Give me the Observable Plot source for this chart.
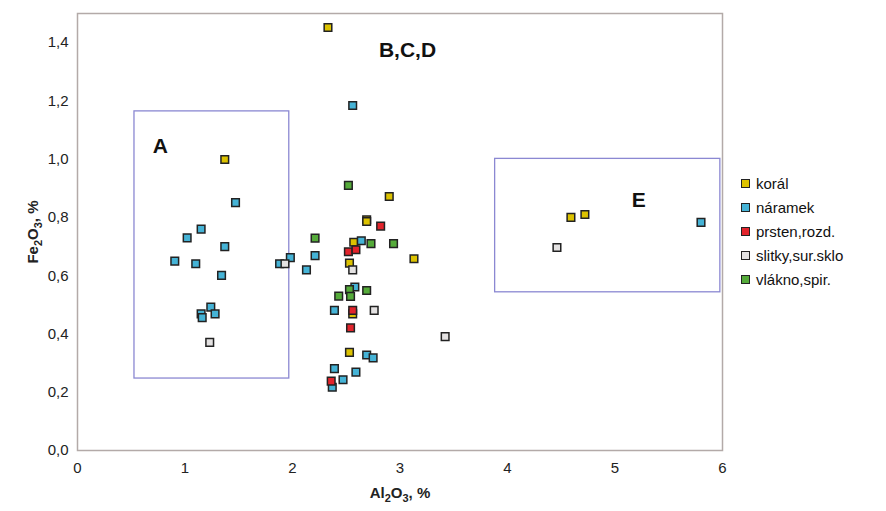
<!DOCTYPE html>
<html>
<head>
<meta charset="utf-8">
<script src="https://cdn.jsdelivr.net/npm/d3@7"></script>
<script src="https://cdn.jsdelivr.net/npm/@observablehq/plot@0.6"></script>
<style>
  html, body { margin: 0; padding: 0; background: #fff; }
  #wrap { position: relative; width: 886px; height: 511px; font-family: "Liberation Sans", Arial, sans-serif; }
  #legend { position: absolute; left: 741px; top: 171px; font-size: 15px; color: #111; }
  #legend .row { height: 24px; display: flex; align-items: center; white-space: nowrap; }
  #legend .sw { width: 7px; height: 7px; border: 1.3px solid #222; margin-right: 6px; }
</style>
</head>
<body>
<div id="wrap"></div>
<script>
// Series (Al2O3 %, Fe2O3 %)
const seriesNames = ["korál", "náramek", "prsten,rozd.", "slitky,sur.sklo", "vlákno,spir."];
const seriesColors = ["#dcc200", "#45b3d6", "#e2242c", "#e4e2e2", "#55ab3a"];

const koralX = [2.33, 1.37, 2.90, 2.69, 2.69, 2.57, 3.13, 2.53, 2.56, 2.53, 4.59, 4.72];
const koralY = [1.452, 0.999, 0.872, 0.792, 0.786, 0.715, 0.658, 0.643, 0.469, 0.337, 0.80, 0.81];

const naramekX = [2.56, 1.47, 1.15, 1.02, 1.37, 0.905, 1.10, 1.88, 1.98, 1.34, 1.24, 1.28, 1.15, 1.16,
                  2.21, 2.13, 2.64, 2.58, 2.39, 2.69, 2.75, 2.39, 2.59, 2.47, 2.37, 5.80];
const naramekY = [1.184, 0.851, 0.760, 0.730, 0.700, 0.650, 0.641, 0.641, 0.662, 0.601, 0.492, 0.469, 0.469, 0.456,
                  0.669, 0.620, 0.720, 0.561, 0.481, 0.328, 0.318, 0.281, 0.269, 0.243, 0.217, 0.783];

const prstenX = [2.82, 2.52, 2.59, 2.56, 2.54, 2.36];
const prstenY = [0.770, 0.682, 0.689, 0.481, 0.421, 0.238];

const slitkyX = [1.93, 1.23, 2.56, 2.76, 3.42, 4.46];
const slitkyY = [0.641, 0.371, 0.620, 0.481, 0.391, 0.697];

const vlaknoX = [2.52, 2.21, 2.73, 2.94, 2.53, 2.69, 2.43, 2.54];
const vlaknoY = [0.910, 0.729, 0.710, 0.710, 0.552, 0.549, 0.530, 0.529];

// Group boxes and labels
const boxNames = ["A", "E"];
const boxX1 = [0.53, 3.885];
const boxX2 = [1.97, 5.98];
const boxY1 = [0.247, 0.543];
const boxY2 = [1.164, 1.001];

const groupLabels = ["A", "B,C,D", "E"];
const groupLabelX = [0.77, 3.07, 5.22];
const groupLabelY = [1.044, 1.373, 0.858];

const xTicks = [0, 1, 2, 3, 4, 5, 6];
const yTicks = [0, 0.2, 0.4, 0.6, 0.8, 1.0, 1.2, 1.4];

// Axis label parts: [text, isSubscript]
const xLabelParts = [["Al", false], ["2", true], ["O", false], ["3", true], [", %", false]];
const yLabelParts = [["Fe", false], ["2", true], ["O", false], ["3", true], [", %", false]];

// Build tables
const xs = [koralX, naramekX, prstenX, slitkyX, vlaknoX];
const ys = [koralY, naramekY, prstenY, slitkyY, vlaknoY];
const points = [];
seriesNames.forEach((name, i) => {
  xs[i].forEach((x, j) => points.push({series: name, x, y: ys[i][j]}));
});
const boxes = boxNames.map((n, i) => ({name: n, x1: boxX1[i], x2: boxX2[i], y1: boxY1[i], y2: boxY2[i]}));
const labels = groupLabels.map((t, i) => ({t, x: groupLabelX[i], y: groupLabelY[i]}));

const chart = Plot.plot({
  width: 886,
  height: 511,
  marginLeft: 77,
  marginRight: 164,
  marginTop: 13,
  marginBottom: 61,
  style: {fontFamily: "'Liberation Sans', Arial, sans-serif", fontSize: "15px", color: "#222", background: "#fff"},
  x: {domain: [0, 6]},
  y: {domain: [0, 1.5]},
  color: {domain: seriesNames, range: seriesColors},
  marks: [
    Plot.rect(boxes, {x1: "x1", x2: "x2", y1: "y1", y2: "y2", fill: "none", stroke: "#8b88d2", strokeWidth: 1.3}),
    Plot.frame({stroke: "#b3aaa8", strokeWidth: 1.5}),
    Plot.axisX({ticks: xTicks, tickSize: 0, tickPadding: 12, tickFormat: d => String(d),
      label: "Al2O3, %", labelAnchor: "center", labelArrow: "none", labelOffset: 47,
      fontSize: 15}),
    Plot.axisY({ticks: yTicks, tickSize: 0, tickPadding: 9, tickFormat: d => d.toFixed(1).replace(".", ","),
      label: "Fe2O3, %", labelAnchor: "center", labelArrow: "none", labelOffset: 50,
      fontSize: 15}),
    Plot.text(labels, {x: "x", y: "y", text: "t", fontSize: 21, fontWeight: "bold", fill: "#111"}),
    Plot.dot(points, {x: "x", y: "y", fill: "series", symbol: "square", r: 4.3, stroke: "#222", strokeWidth: 1.5})
  ]
});

// bold axis labels with real subscripts
function rich(textEl, parts) {
  while (textEl.firstChild) textEl.removeChild(textEl.firstChild);
  textEl.setAttribute("font-weight", "bold");
  textEl.setAttribute("font-size", "15");
  let shifted = false;
  parts.forEach(([s, sub]) => {
    const ts = document.createElementNS("http://www.w3.org/2000/svg", "tspan");
    ts.textContent = s;
    if (sub && !shifted) { ts.setAttribute("dy", "4"); ts.setAttribute("font-size", "11"); shifted = true; }
    else if (sub) { ts.setAttribute("font-size", "11"); }
    else if (shifted) { ts.setAttribute("dy", "-4"); shifted = false; }
    textEl.appendChild(ts);
  });
}
// with consistent dy handling: each subscript followed by normal text
const xl = chart.querySelector("[aria-label='x-axis label'] text");
const yl = chart.querySelector("[aria-label='y-axis label'] text");
if (xl) rich(xl, xLabelParts);
if (yl) rich(yl, yLabelParts);

const wrap = document.getElementById("wrap");
wrap.appendChild(chart);

const legend = document.createElement("div");
legend.id = "legend";
seriesNames.forEach((n, i) => {
  const row = document.createElement("div");
  row.className = "row";
  const sw = document.createElement("span");
  sw.className = "sw";
  sw.style.background = seriesColors[i];
  const tx = document.createElement("span");
  tx.textContent = n;
  row.appendChild(sw);
  row.appendChild(tx);
  legend.appendChild(row);
});
wrap.appendChild(legend);
</script>
</body>
</html>
